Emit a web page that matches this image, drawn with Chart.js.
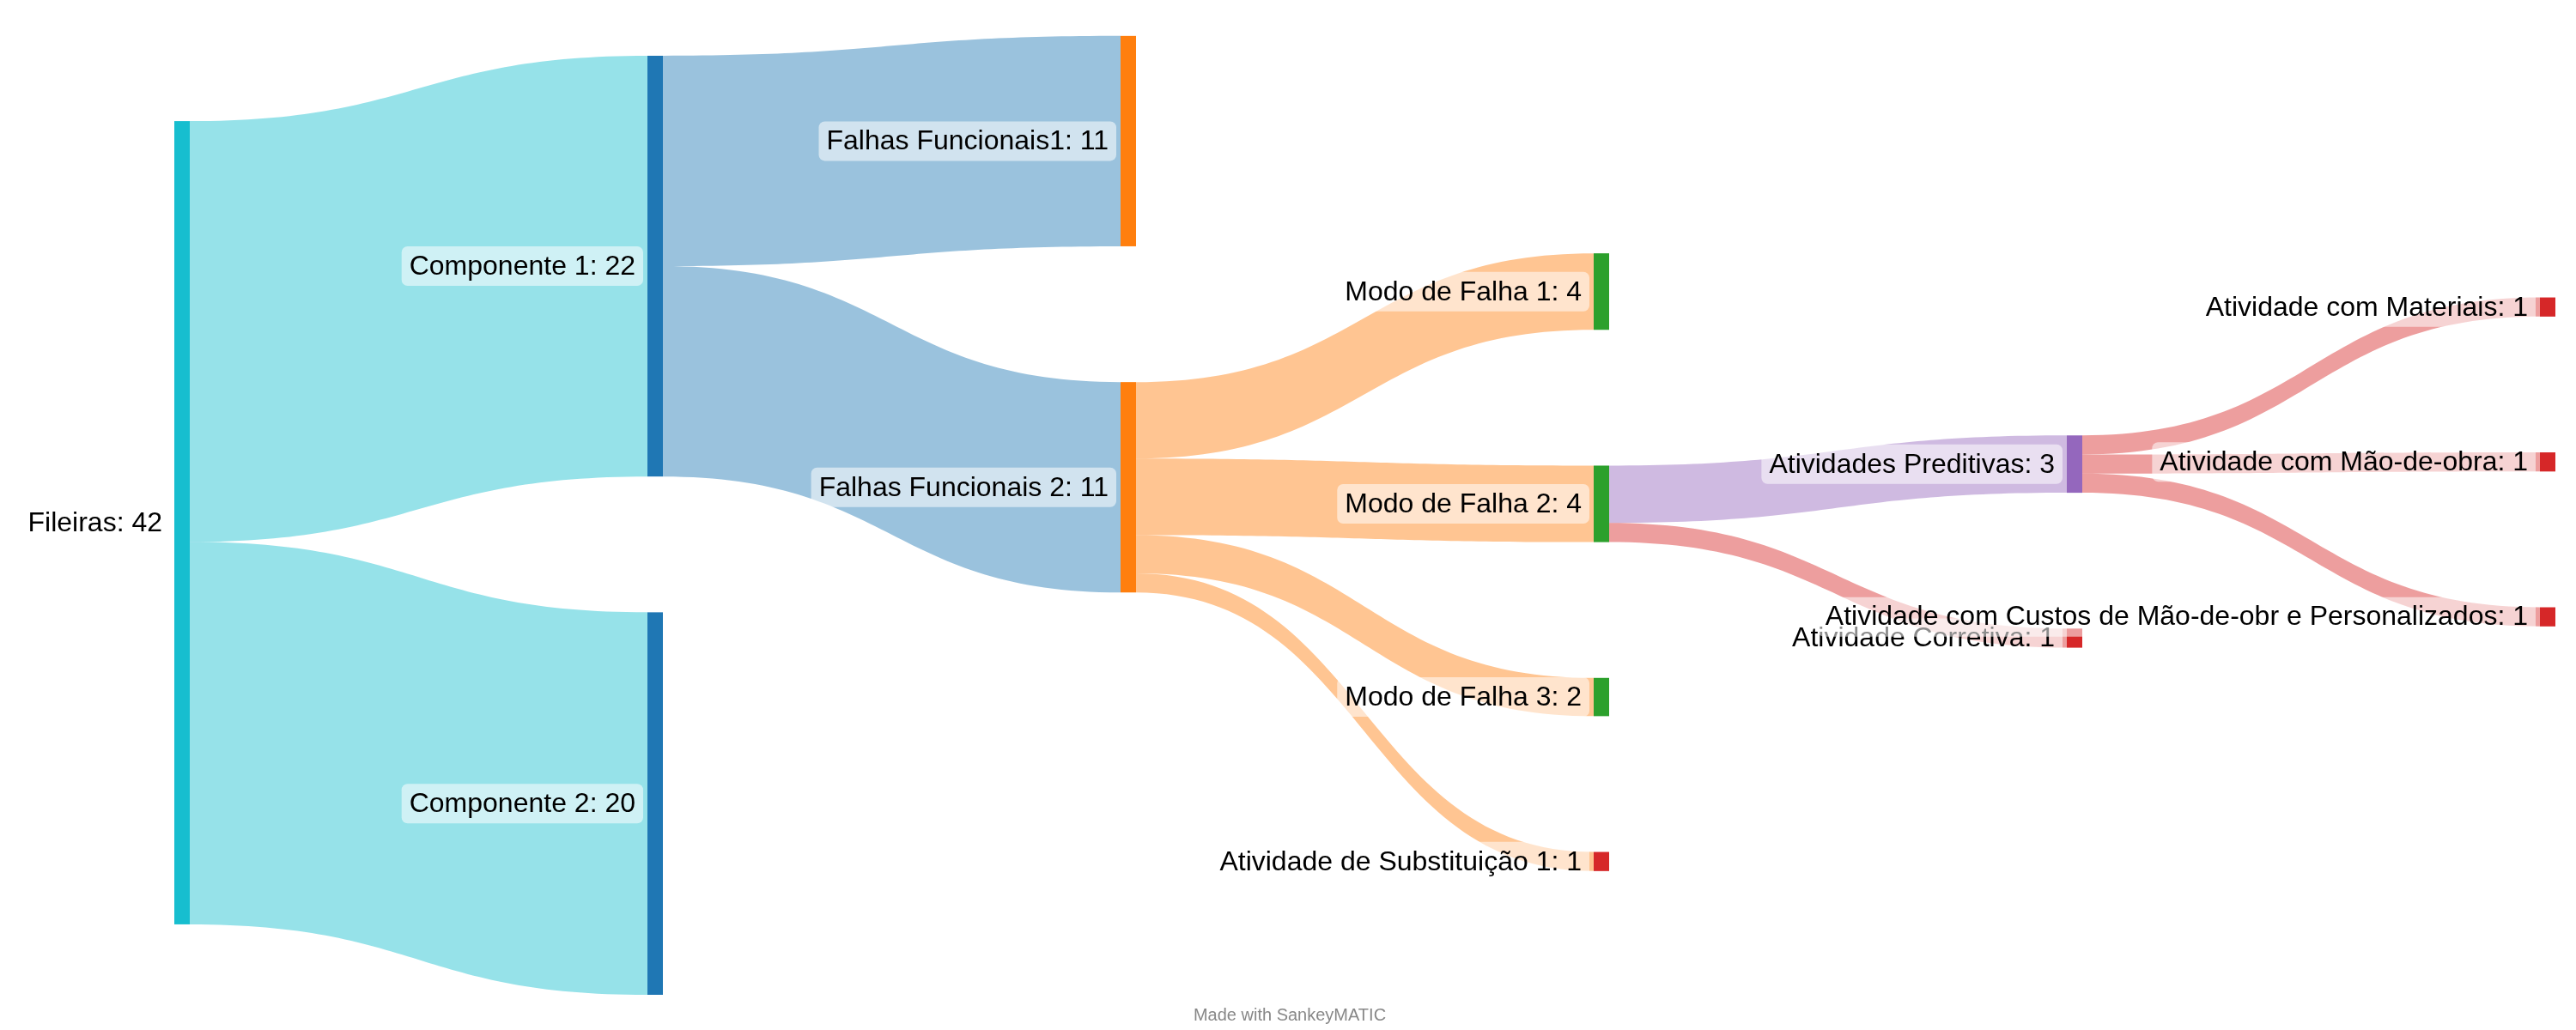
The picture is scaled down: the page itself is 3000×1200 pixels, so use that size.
<!DOCTYPE html>
<html>
<head>
<meta charset="utf-8">
<script src="https://cdn.jsdelivr.net/npm/chart.js@4.4.1/dist/chart.umd.min.js"></script>
<style>
  html, body { margin: 0; background: #fff; }
  #wrap { width: 3000px; height: 1200px; }
</style>
</head>
<body>
<div id="wrap"><canvas id="sankey" width="3000" height="1200"></canvas></div>
<script>
// flows: from -> to, value
const flowFrom = [
  'Fileiras', 'Fileiras',
  'Componente 1', 'Componente 1',
  'Falhas Funcionais 2', 'Falhas Funcionais 2', 'Falhas Funcionais 2', 'Falhas Funcionais 2',
  'Modo de Falha 2', 'Modo de Falha 2',
  'Atividades Preditivas', 'Atividades Preditivas', 'Atividades Preditivas'
];
const flowTo = [
  'Componente 1', 'Componente 2',
  'Falhas Funcionais1', 'Falhas Funcionais 2',
  'Modo de Falha 1', 'Modo de Falha 2', 'Modo de Falha 3', 'Atividade de Substituição 1',
  'Atividades Preditivas', 'Atividade Corretiva',
  'Atividade com Materiais', 'Atividade com Mão-de-obra', 'Atividade com Custos de Mão-de-obr e Personalizados'
];
const flowValues = [22, 20, 11, 11, 4, 4, 2, 1, 3, 1, 1, 1, 1];

// node colours (style only)
const nodeColors = {
  'Fileiras': '#17becf',
  'Componente 1': '#1f77b4', 'Componente 2': '#1f77b4',
  'Falhas Funcionais1': '#ff7f0e', 'Falhas Funcionais 2': '#ff7f0e',
  'Modo de Falha 1': '#2ca02c', 'Modo de Falha 2': '#2ca02c', 'Modo de Falha 3': '#2ca02c',
  'Atividades Preditivas': '#9467bd'
};
const defaultNodeColor = '#d62728';

const NODE_GAP = 7.1;       // in value units
const LAYOUT_HEIGHT = 50.4; // in value units
const NODE_W = 18;
const ITERATIONS = 32;

function buildGraph() {
  const names = [];
  flowFrom.forEach((f, i) => {
    if (!names.includes(f)) names.push(f);
    if (!names.includes(flowTo[i])) names.push(flowTo[i]);
  });
  const nodes = names.map((name, i) => ({ name, index: i, sourceLinks: [], targetLinks: [], depth: 0 }));
  const byName = Object.fromEntries(nodes.map(n => [n.name, n]));
  const links = flowValues.map((v, i) => {
    const l = { source: byName[flowFrom[i]], target: byName[flowTo[i]], value: v, width: v, index: i };
    l.source.sourceLinks.push(l);
    l.target.targetLinks.push(l);
    return l;
  });
  const sum = arr => arr.reduce((a, l) => a + l.value, 0);
  nodes.forEach(n => n.value = Math.max(sum(n.sourceLinks), sum(n.targetLinks)));
  let changed = true;
  while (changed) {
    changed = false;
    links.forEach(l => {
      if (l.target.depth < l.source.depth + 1) { l.target.depth = l.source.depth + 1; changed = true; }
    });
  }
  return { nodes, links };
}

// relaxation layout (d3-sankey style, links aligned flat, collisions packed round the busiest node)
function layout(graph) {
  const H = LAYOUT_HEIGHT, py = NODE_GAP;
  const nCols = Math.max(...graph.nodes.map(n => n.depth)) + 1;
  const columns = Array.from({ length: nCols }, () => []);
  graph.nodes.forEach(n => columns[n.depth].push(n));

  const byY = (a, b) => a.y0 - b.y0;
  const byTarget = (a, b) => byY(a.target, b.target) || a.index - b.index;
  const bySource = (a, b) => byY(a.source, b.source) || a.index - b.index;
  const reorderNodeLinks = node => {
    node.targetLinks.forEach(l => l.source.sourceLinks.sort(byTarget));
    node.sourceLinks.forEach(l => l.target.targetLinks.sort(bySource));
  };
  const degree = n => n.sourceLinks.length + n.targetLinks.length;
  const subjectIndex = nodes => {
    const mid = nodes.length >> 1;
    let i = 0;
    nodes.forEach((n, k) => {
      const d = degree(n) - degree(nodes[i]);
      if (d > 0 || (d === 0 && Math.abs(k - mid) < Math.abs(i - mid))) i = k;
    });
    return i;
  };

  for (const col of columns) {
    let y = 0;
    for (const n of col) { n.y0 = y; n.y1 = y + n.value; y = n.y1 + py; }
    const s = (H - y + py) / (col.length + 1);
    col.forEach((n, i) => { n.y0 += s * (i + 1); n.y1 += s * (i + 1); });
    col.forEach(n => { n.sourceLinks.sort(byTarget); n.targetLinks.sort(bySource); });
  }

  function targetTop(source, target) {
    let y = source.y0;
    for (const l of source.sourceLinks) { if (l.target === target) break; y += l.width; }
    for (const l of target.targetLinks) { if (l.source === source) break; y -= l.width; }
    return y;
  }
  function sourceTop(source, target) {
    let y = target.y0;
    for (const l of target.targetLinks) { if (l.source === source) break; y += l.width; }
    for (const l of source.sourceLinks) { if (l.target === target) break; y -= l.width; }
    return y;
  }
  function topToBottom(nodes, y, i, alpha) {
    for (; i < nodes.length; ++i) {
      const n = nodes[i], dy = (y - n.y0) * alpha;
      if (dy > 1e-6) { n.y0 += dy; n.y1 += dy; }
      y = n.y1 + py;
    }
  }
  function bottomToTop(nodes, y, i, alpha) {
    for (; i >= 0; --i) {
      const n = nodes[i], dy = (n.y1 - y) * alpha;
      if (dy > 1e-6) { n.y0 -= dy; n.y1 -= dy; }
      y = n.y0 - py;
    }
  }
  function resolveCollisions(nodes, alpha) {
    const i = subjectIndex(nodes), subject = nodes[i];
    bottomToTop(nodes, subject.y0 - py, i - 1, alpha);
    topToBottom(nodes, subject.y1 + py, i + 1, alpha);
    bottomToTop(nodes, H, nodes.length - 1, alpha);
    topToBottom(nodes, 0, 0, alpha);
  }
  function relaxLeftToRight(alpha, beta) {
    for (let i = 1; i < columns.length; ++i) {
      const col = columns[i];
      for (const t of col) {
        let y = 0, w = 0;
        for (const l of t.targetLinks) {
          const v = l.value * (t.depth - l.source.depth);
          y += targetTop(l.source, t) * v; w += v;
        }
        if (!(w > 0)) continue;
        const dy = (y / w - t.y0) * alpha;
        t.y0 += dy; t.y1 += dy;
        reorderNodeLinks(t);
      }
      col.sort(byY);
      resolveCollisions(col, beta);
    }
  }
  function relaxRightToLeft(alpha, beta) {
    for (let i = columns.length - 2; i >= 0; --i) {
      const col = columns[i];
      for (const s of col) {
        let y = 0, w = 0;
        for (const l of s.sourceLinks) {
          const v = l.value * (l.target.depth - s.depth);
          y += sourceTop(s, l.target) * v; w += v;
        }
        if (!(w > 0)) continue;
        const dy = (y / w - s.y0) * alpha;
        s.y0 += dy; s.y1 += dy;
        reorderNodeLinks(s);
      }
      col.sort(byY);
      resolveCollisions(col, beta);
    }
  }
  for (let i = 0; i < ITERATIONS; ++i) {
    const alpha = Math.pow(0.99, i);
    const beta = Math.max(1 - alpha, (i + 1) / ITERATIONS);
    relaxLeftToRight(alpha, beta);
    relaxRightToLeft(alpha, beta);
  }
  // final pass: stack each column tightly round its busiest node, then keep it in bounds
  for (const col of columns) {
    col.sort(byY);
    const i = subjectIndex(col);
    for (let k = i - 1; k >= 0; --k) {
      const d = col[k + 1].y0 - py - col[k].y1;
      col[k].y0 += d; col[k].y1 += d;
    }
    for (let k = i + 1; k < col.length; ++k) {
      const d = col[k - 1].y1 + py - col[k].y0;
      col[k].y0 += d; col[k].y1 += d;
    }
    const shift = Math.max(0, -col[0].y0) - Math.max(0, col[col.length - 1].y1 - H);
    col.forEach(n => { n.y0 += shift; n.y1 += shift; });
    col.forEach(n => { n.sourceLinks.sort(byTarget); n.targetLinks.sort(bySource); });
  }
  for (const n of graph.nodes) {
    let a = n.y0, b = n.y0;
    for (const l of n.sourceLinks) { l.y0 = a; a += l.width; }
    for (const l of n.targetLinks) { l.y1 = b; b += l.width; }
  }
  return nCols;
}

const graph = buildGraph();
const maxCol = layout(graph) - 1;

function rgba(hex, a) {
  const n = parseInt(hex.slice(1), 16);
  return `rgba(${n >> 16},${(n >> 8) & 255},${n & 255},${a})`;
}
const colorOf = n => nodeColors[n.name] || defaultNodeColor;

const sankeyPlugin = {
  id: 'sankeyDraw',
  afterDraw(chart) {
    const { ctx, scales: { x, y } } = chart;
    ctx.save();
    // flows
    for (const l of graph.links) {
      const xs = x.getPixelForValue(l.source.depth) + NODE_W;
      const xt = x.getPixelForValue(l.target.depth);
      const xm = (xs + xt) / 2;
      const s0 = y.getPixelForValue(l.y0), s1 = y.getPixelForValue(l.y0 + l.width);
      const t0 = y.getPixelForValue(l.y1), t1 = y.getPixelForValue(l.y1 + l.width);
      const useSource = l.source.depth + l.target.depth <= maxCol;
      ctx.fillStyle = rgba(colorOf(useSource ? l.source : l.target), 0.45);
      ctx.beginPath();
      ctx.moveTo(xs, s0);
      ctx.bezierCurveTo(xm, s0, xm, t0, xt, t0);
      ctx.lineTo(xt, t1);
      ctx.bezierCurveTo(xm, t1, xm, s1, xs, s1);
      ctx.closePath();
      ctx.fill();
    }
    // nodes
    for (const n of graph.nodes) {
      const px = x.getPixelForValue(n.depth);
      const top = y.getPixelForValue(n.y0), bot = y.getPixelForValue(n.y1);
      ctx.fillStyle = colorOf(n);
      ctx.fillRect(px, top, NODE_W, bot - top);
    }
    // labels
    ctx.font = '32px "Liberation Sans", Arial, sans-serif';
    ctx.textAlign = 'right';
    ctx.textBaseline = 'middle';
    for (const n of graph.nodes) {
      const txt = `${n.name}: ${n.value}`;
      const right = x.getPixelForValue(n.depth) - 14;
      const cy = (y.getPixelForValue(n.y0) + y.getPixelForValue(n.y1)) / 2;
      const w = ctx.measureText(txt).width;
      ctx.fillStyle = 'rgba(255,255,255,0.55)';
      ctx.beginPath();
      ctx.roundRect(right - w - 9, cy - 23, w + 18, 46, 7);
      ctx.fill();
      ctx.fillStyle = '#000';
      ctx.fillText(txt, right, cy + 1);
    }
    ctx.font = '20px "Liberation Sans", Arial, sans-serif';
    ctx.textAlign = 'center';
    ctx.fillStyle = '#888';
    ctx.fillText('Made with SankeyMATIC', 1502, 1183);
    ctx.restore();
  }
};

new Chart(document.getElementById('sankey'), {
  type: 'scatter',
  data: { datasets: [] },
  options: {
    responsive: false,
    animation: false,
    devicePixelRatio: 1,
    events: [],
    layout: { padding: { left: 203, right: 42, top: 36, bottom: 41 } },
    scales: {
      x: { type: 'linear', min: 0, max: maxCol, display: false },
      y: { type: 'linear', min: 0, max: LAYOUT_HEIGHT, reverse: true, display: false }
    },
    plugins: { legend: { display: false }, tooltip: { enabled: false } }
  },
  plugins: [sankeyPlugin]
});
</script>
</body>
</html>
